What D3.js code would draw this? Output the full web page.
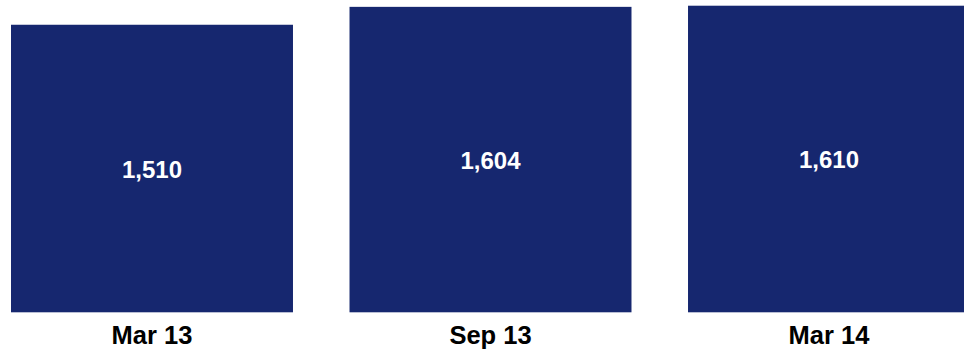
<!DOCTYPE html>
<html>
<head>
<meta charset="utf-8">
<script src="https://cdn.jsdelivr.net/npm/d3@7"></script>
<style>
  html, body { margin: 0; padding: 0; background: #fff; }
  svg { display: block; }
</style>
</head>
<body>
<svg id="chart" width="964" height="351"></svg>
<script>
// Half-yearly totals
const categories = ["Mar 13", "Sep 13", "Mar 14"];
const values = [1510, 1604, 1610];

const svg = d3.select("#chart");
const barColor = "#16276f";
const font = "'Liberation Sans', Arial, sans-serif";

const x = d3.scaleBand()
  .domain(categories)
  .range([11, 970])
  .paddingInner(0.167)
  .paddingOuter(0);

const y = d3.scaleLinear()
  .domain([0, 1640])
  .range([312.3, 0]);

const data = categories.map((c, i) => ({ cat: c, val: values[i] }));

// Bars
svg.selectAll("rect.bar")
  .data(data)
  .join("rect")
  .attr("class", "bar")
  .attr("x", d => x(d.cat))
  .attr("y", d => y(d.val))
  .attr("width", x.bandwidth())
  .attr("height", d => y(0) - y(d.val))
  .attr("fill", barColor);

// Value labels, centred inside each bar
const fmt = d3.format(",");
svg.selectAll("text.value")
  .data(data)
  .join("text")
  .attr("class", "value")
  .attr("x", d => x(d.cat) + x.bandwidth() / 2)
  .attr("y", d => (y(d.val) + y(0)) / 2 + 9)
  .attr("text-anchor", "middle")
  .attr("font-family", font)
  .attr("font-weight", "bold")
  .attr("font-size", 24)
  .attr("fill", "#ffffff")
  .text(d => fmt(d.val));

// Category axis labels
const xAxis = d3.axisBottom(x).tickSize(0).tickPadding(0);
const axisG = svg.append("g")
  .attr("transform", `translate(0, ${y(0)})`)
  .call(xAxis);
axisG.select(".domain").remove();
axisG.selectAll("text")
  .attr("y", 31.5)
  .attr("dy", null)
  .attr("font-family", font)
  .attr("font-weight", "bold")
  .attr("font-size", 25.5)
  .attr("fill", "#000000");
</script>
</body>
</html>
